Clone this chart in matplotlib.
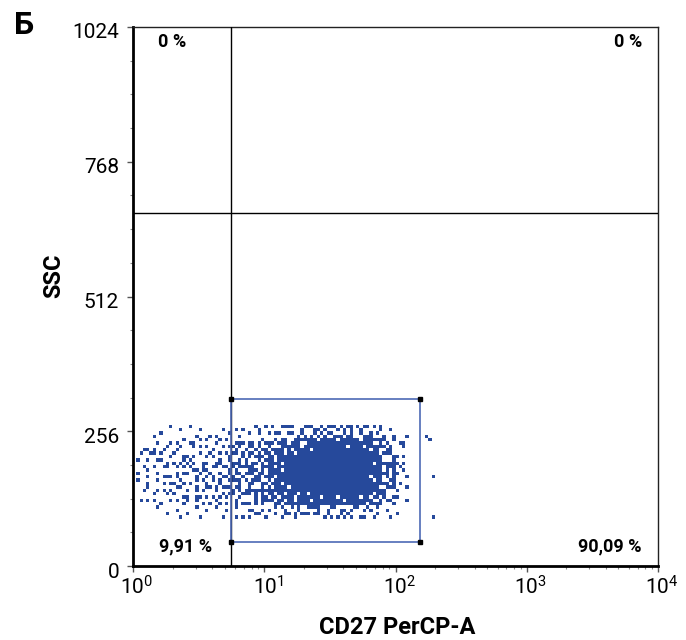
import numpy as np
import matplotlib
matplotlib.use("Agg")
import matplotlib.pyplot as plt
from matplotlib.colors import ListedColormap
from matplotlib.ticker import FixedLocator, LogLocator, LogFormatterMathtext
import matplotlib.transforms as mtransforms

plt.rcParams['font.family'] = ['Roboto', 'DejaVu Sans']
plt.rcParams['mathtext.fontset'] = 'custom'
plt.rcParams['mathtext.rm'] = 'Roboto'
plt.rcParams['mathtext.it'] = 'Roboto'
plt.rcParams['mathtext.bf'] = 'Roboto:bold'

# ---- data ----
quad_x = 5.6          # CD27 quadrant split
quad_y = 670          # SSC quadrant split
gate_x = [5.6, 154]
gate_y = [46, 318]
quad_labels = ['0 %', '0 %', '9,91 %', '90,09 %']
y_ticks = [0, 256, 512, 768, 1024]

# event density, 0..16 per cell; columns = 0.1 decade steps from 10^0,
# rows = 25.6 SSC steps from 89.6 (top row first)
density_rows = [
    [0, 1, 2, 1, 2, 2, 2, 2, 3, 3, 4, 5, 5, 7, 8, 8, 8, 7, 6, 3, 1, 0, 1, 0],
    [1, 3, 3, 4, 3, 4, 4, 5, 6, 7, 8, 11, 12, 14, 15, 15, 15, 14, 12, 7, 3, 0, 1, 0],
    [2, 4, 4, 5, 5, 5, 5, 7, 8, 9, 11, 14, 15, 16, 16, 16, 16, 16, 14, 9, 4, 0, 0, 0],
    [2, 4, 5, 5, 5, 6, 6, 8, 9, 10, 12, 15, 16, 16, 16, 16, 16, 16, 15, 10, 4, 0, 1, 0],
    [2, 4, 4, 5, 5, 5, 6, 7, 9, 10, 11, 14, 16, 16, 16, 16, 16, 16, 14, 9, 3, 0, 0, 0],
    [1, 3, 3, 4, 4, 4, 5, 6, 7, 8, 9, 12, 13, 14, 15, 15, 15, 14, 11, 6, 2, 0, 0, 0],
    [0, 1, 1, 2, 2, 2, 2, 3, 3, 4, 4, 5, 6, 6, 6, 6, 6, 5, 4, 2, 1, 0, 1, 0],
]
grid_x0, grid_dx = 0.0, 0.1     # log10 units
grid_y0, grid_dy = 89.6, 25.6

dot_color = '#26499b'
gate_color = '#4d69b5'

fig = plt.figure(figsize=(6.86, 6.4), dpi=100)
ax = fig.add_axes([133/686, 1-566/640, 525/686, 539/640])

# halftone each density cell into 4x4 dots (scrambled ordered dither)
bayer = np.array([[0, 8, 2, 10], [12, 4, 14, 6], [3, 11, 1, 9], [15, 7, 13, 5]])
odd = [1, 3, 5, 7, 9, 11, 13, 15]
dens = np.array(density_rows[::-1])
nr, nc = dens.shape
mask = np.zeros((nr*4, nc*4))
for r in range(nr):
    for c in range(nc):
        k = odd[(r*5 + c*3) % 8]
        thr = (bayer * k + (r*7 + c*13)) % 16
        if (r + c) % 2:
            thr = thr.T
        mask[r*4:(r+1)*4, c*4:(c+1)*4] = thr < dens[r, c]
xe = 10 ** (grid_x0 + np.arange(nc*4 + 1) * grid_dx/4)
ye = grid_y0 + np.arange(nr*4 + 1) * grid_dy/4
ax.pcolormesh(xe, ye, np.ma.masked_equal(mask, 0), cmap=ListedColormap([dot_color]),
              shading='flat', antialiased=False, edgecolors='none', zorder=2)

# quadrant lines
ax.axvline(quad_x, color='black', lw=1.0, zorder=3)
ax.axhline(quad_y, color='black', lw=1.0, zorder=3)

# gate
gx = [gate_x[0], gate_x[1], gate_x[1], gate_x[0], gate_x[0]]
gy = [gate_y[0], gate_y[0], gate_y[1], gate_y[1], gate_y[0]]
ax.plot(gx, gy, color=gate_color, lw=1.2, zorder=4)
ax.plot(gx[:4], gy[:4], 's', color='black', ms=3.5, zorder=5)

ax.set_xscale('log')
ax.set_xlim(1, 1e4)
ax.set_ylim(0, 1024)

# quadrant percentages
kw = dict(transform=ax.transAxes, fontsize=13, fontweight='bold', va='center')
ax.text(0.074, 0.972, quad_labels[0], ha='center', **kw)
ax.text(0.9695, 0.972, quad_labels[1], ha='right', **kw)
ax.text(0.101, 0.037, quad_labels[2], ha='center', **kw)
ax.text(0.9695, 0.037, quad_labels[3], ha='right', **kw)

# ticks
ax.yaxis.set_major_locator(FixedLocator(y_ticks))
ax.yaxis.set_minor_locator(FixedLocator(np.arange(0, 1025, 64)))
ax.xaxis.set_major_locator(LogLocator(base=10, numticks=10))
ax.xaxis.set_minor_locator(LogLocator(base=10, subs=np.arange(2, 10), numticks=10))
ax.xaxis.set_major_formatter(LogFormatterMathtext())
ax.tick_params(which='major', direction='out', length=4, width=1, color='#555555',
               labelsize=15, pad=6)
ax.tick_params(which='minor', direction='out', length=2.5, width=0.8, color='#888888')
ax.tick_params(axis='x', which='major', pad=3)

for lab in ax.get_xticklabels():
    lab.set_transform(lab.get_transform() + mtransforms.ScaledTranslation(4/100, 0, fig.dpi_scale_trans))
for lab in ax.get_yticklabels():
    lab.set_transform(lab.get_transform() + mtransforms.ScaledTranslation(0, -4/100, fig.dpi_scale_trans))

for s in ['left', 'bottom']:
    ax.spines[s].set_linewidth(2.0)
for s in ['top', 'right']:
    ax.spines[s].set_linewidth(1.0)
    ax.spines[s].set_color('#222222')

# labels
fig.text(54/686, 1-276/640, 'SSC', rotation=90, ha='center', va='center',
         fontsize=17, fontweight='bold')
fig.text(397/686, 1-628/640, 'CD27 PerCP-A', ha='center', va='center',
         fontsize=17, fontweight='bold')
fig.text(24/686, 1-25/640, 'Б', ha='center', va='center', fontsize=23, fontweight='bold')

fig.savefig('out.png', dpi=100)
